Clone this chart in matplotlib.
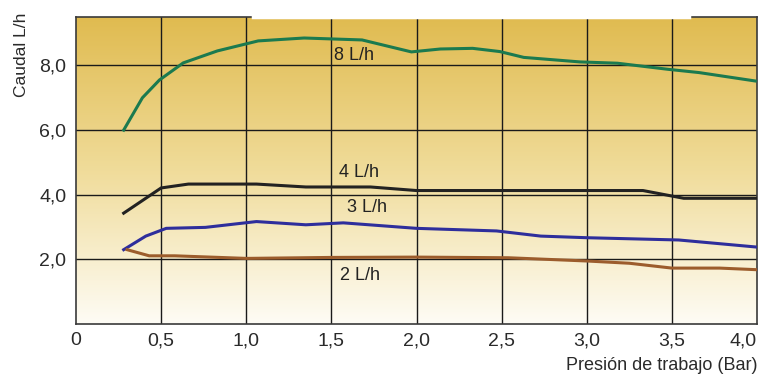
import numpy as np
import matplotlib.pyplot as plt
from matplotlib.colors import LinearSegmentedColormap

plt.rcParams['font.family'] = ['Liberation Sans', 'DejaVu Sans']

# presion (Bar) / caudal (L/h)
x_8 = [0.28, 0.39, 0.49, 0.63, 0.83, 1.07, 1.34, 1.68, 1.97, 2.14, 2.33, 2.49, 2.63, 2.96, 3.18, 3.48, 3.66, 3.99]
y_8 = [6.0, 7.0, 7.55, 8.08, 8.45, 8.76, 8.85, 8.79, 8.42, 8.51, 8.53, 8.43, 8.25, 8.11, 8.07, 7.88, 7.78, 7.52]

x_4 = [0.28, 0.5, 0.66, 1.06, 1.35, 1.73, 2.0, 3.33, 3.57, 4.0]
y_4 = [3.43, 4.21, 4.33, 4.33, 4.24, 4.24, 4.13, 4.13, 3.89, 3.89]

x_3 = [0.28, 0.41, 0.53, 0.76, 1.06, 1.35, 1.57, 2.0, 2.47, 2.73, 3.0, 3.54, 4.0]
y_3 = [2.30, 2.72, 2.96, 2.99, 3.17, 3.07, 3.13, 2.96, 2.88, 2.72, 2.67, 2.60, 2.38]

x_2 = [0.30, 0.43, 0.58, 1.0, 1.5, 2.0, 2.54, 3.0, 3.25, 3.5, 3.78, 4.0]
y_2 = [2.30, 2.11, 2.11, 2.03, 2.06, 2.07, 2.05, 1.95, 1.88, 1.73, 1.73, 1.68]

series = [
    (x_8, y_8, '#1b7a4f', '8 L/h', 1.63, 8.3),
    (x_4, y_4, '#222222', '4 L/h', 1.66, 4.7),
    (x_3, y_3, '#2e2e9c', '3 L/h', 1.71, 3.6),
    (x_2, y_2, '#9c5c2c', '2 L/h', 1.67, 1.5),
]

xticks = [0, 0.5, 1.0, 1.5, 2.0, 2.5, 3.0, 3.5, 4.0]
xtick_labels = ['0', '0,5', '1,0', '1,5', '2,0', '2,5', '3,0', '3,5', '4,0']
yticks = [2, 4, 6, 8]
ytick_labels = ['2,0', '4,0', '6,0', '8,0']

fig = plt.figure(figsize=(7.69, 3.74), dpi=100)
ax = fig.add_axes([76 / 769, 50 / 374, 681 / 769, 307 / 374])
ax.set_xlim(0, 4.0)
ax.set_ylim(0, 9.5)

# golden background fading to white at the bottom
cmap = LinearSegmentedColormap.from_list(
    'bg', [(0.0, '#fefcf5'), (0.5, '#f0dc9a'), (1.0, '#e0bb50')])
grad = np.linspace(0, 1, 256).reshape(-1, 1)
ax.imshow(grad, cmap=cmap, aspect='auto', origin='lower',
          extent=[0, 4.0, 0, 9.5], zorder=0)

for v in xticks[1:-1]:
    ax.axvline(v, color='#1a1a1a', lw=1.0, zorder=1)
for v in yticks:
    ax.axhline(v, color='#1a1a1a', lw=1.0, zorder=1)

for xs, ys, col, lab, lx, ly in series:
    ax.plot(xs, ys, color=col, lw=2.2, zorder=3, solid_joinstyle='miter')
    ax.text(lx, ly, lab, fontsize=13, color='#222222', ha='center', va='center', zorder=4)

ax.set_xticks(xticks)
ax.set_xticklabels(xtick_labels, fontsize=14, color='#2a2a2a')
ax.get_xticklabels()[-1].set_ha('right')  # last label kept inside the figure
ax.set_yticks(yticks)
ax.set_yticklabels(ytick_labels, fontsize=14, color='#2a2a2a')
ax.tick_params(axis='x', length=0, pad=6)
ax.tick_params(axis='y', length=0, pad=7)

for s in ax.spines.values():
    s.set_color('#3a3a3a')
    s.set_linewidth(1.2)

# top border has a gap in the original
ax.plot([1.04, 3.6], [9.5, 9.5], color='white', lw=2.5, clip_on=False, zorder=5)

fig.text(22 / 769, 1 - 55 / 374, 'Caudal L/h', rotation=90, ha='center', va='center',
         fontsize=12.5, color='#2a2a2a')
fig.text(757 / 769, 1 - 366 / 374, 'Presión de trabajo (Bar)', ha='right', va='center',
         fontsize=13, color='#2a2a2a')

fig.savefig('out.png', dpi=100)
